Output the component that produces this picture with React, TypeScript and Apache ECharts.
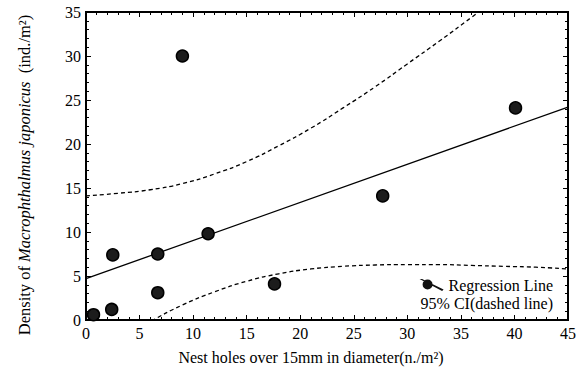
import React, { useEffect, useRef } from "react";
import * as echarts from "echarts";

// Observed points (nest holes, density)
const holes = [0.7, 2.4, 2.5, 6.7, 6.7, 9.0, 11.4, 17.6, 27.7, 40.1];
const density = [0.6, 1.2, 7.4, 3.1, 7.5, 30.0, 9.8, 4.1, 14.1, 24.1];

// Regression line end points
const regX = [0, 45];
const regY = [4.7, 24.2];

// 95% CI curves
const ciX = [0, 3, 6, 9, 12, 15, 18, 21, 24, 27, 30, 33, 36, 39, 42, 45];
const ciUpper = [14.1, 14.4, 14.8, 15.5, 16.6, 18.0, 19.8, 21.8, 24.1, 26.5, 29.1, 31.7, 34.4, 37.1, 39.8, 42.6];
const ciLower = [-4.7, -2.4, -0.2, 1.7, 3.2, 4.4, 5.25, 5.8, 6.1, 6.25, 6.3, 6.3, 6.2, 6.1, 6.0, 5.8];

const xTicks = { min: 0, max: 45, interval: 5 };
const yTicks = { min: 0, max: 35, interval: 5 };

const xTitle = "Nest holes over 15mm in diameter(n./m²)";
const yTitle = "{a|Density of }{i|Macrophthalmus japonicus}{a|  (ind./m²)}";

const FONT = "'Liberation Serif', 'Times New Roman', serif";

export default function App() {
  const ref = useRef<HTMLDivElement>(null);
  useEffect(() => {
    if (!ref.current) return;
    const chart = echarts.init(ref.current, undefined, { renderer: "svg" });
    const tickCommon = {
      axisLine: { show: true, onZero: false, lineStyle: { color: "#000", width: 2 } },
      axisTick: { show: true, inside: true, length: 5, lineStyle: { color: "#000", width: 1 } },
      minorTick: { show: true, splitNumber: 5, length: 3, lineStyle: { color: "#000", width: 1 } },
      splitLine: { show: false },
    };
    const labelStyle = { color: "#000", fontFamily: FONT, fontSize: 16 };
    const legendText = { color: "#000", fontFamily: FONT, fontSize: 16 };
    chart.setOption({
      animation: false,
      backgroundColor: "#fff",
      textStyle: { fontFamily: FONT, color: "#000" },
      grid: {
        left: 86,
        right: 13,
        top: 12,
        bottom: 53,
        containLabel: false,
        outerBoundsMode: "none",
        show: true,
        borderColor: "#000",
        borderWidth: 2,
        backgroundColor: "transparent",
      },
      graphic: [
        {
          type: "text",
          x: 311,
          y: 357,
          style: {
            text: xTitle,
            fontFamily: FONT,
            fontSize: 16,
            fill: "#000",
            align: "center",
            verticalAlign: "middle",
          },
        },
        {
          type: "text",
          x: 24,
          y: 175,
          rotation: Math.PI / 2,
          style: {
            text: yTitle,
            fontFamily: FONT,
            fontSize: 16.5,
            fill: "#000",
            align: "center",
            verticalAlign: "middle",
            rich: {
              a: { fontFamily: FONT, fontSize: 16.5, fill: "#000" },
              i: { fontFamily: FONT, fontSize: 16.5, fontStyle: "italic", fill: "#000" },
            },
          },
        },
      ],
      legend: [
        {
          orient: "vertical",
          right: 28,
          top: 277,
          padding: 0,
          itemWidth: 24,
          itemHeight: 12,
          itemGap: 5,
          textStyle: legendText,
          selectedMode: false,
          data: [
            {
              name: "Regression Line",
              icon: "path://M0,0 L2.5,0 L24,10.5 L22.5,12 Z M13,5.5 A5,5 0 1 1 3,5.5 A5,5 0 1 1 13,5.5 Z",
              itemStyle: { color: "#111" },
            },
          ],
        },
        {
          orient: "vertical",
          right: 28,
          top: 295,
          padding: 0,
          itemWidth: 1,
          itemHeight: 12,
          itemGap: 0,
          textStyle: legendText,
          selectedMode: false,
          data: [{ name: "95% CI(dashed line)", icon: "none" }],
        },
      ],
      xAxis: [
        {
          type: "value",
          ...xTicks,
          position: "bottom",
          ...tickCommon,
          axisLabel: { ...labelStyle, margin: 5 },
        },
        {
          type: "value",
          ...xTicks,
          position: "top",
          ...tickCommon,
          axisLabel: { show: false },
        },
      ],
      yAxis: [
        {
          type: "value",
          ...yTicks,
          position: "left",
          ...tickCommon,
          axisLabel: { ...labelStyle, margin: 5 },
        },
        {
          type: "value",
          ...yTicks,
          position: "right",
          ...tickCommon,
          axisLabel: { show: false },
        },
      ],
      series: [
        {
          name: "95% CI(dashed line)",
          type: "line",
          xAxisIndex: 1,
          yAxisIndex: 1,
          data: ciX.map((x, i) => [x, ciUpper[i]]),
          smooth: true,
          symbol: "none",
          clip: true,
          lineStyle: { color: "#000", width: 1.3, type: [4, 3] },
        },
        {
          name: "95% CI(dashed line)",
          type: "line",
          xAxisIndex: 1,
          yAxisIndex: 1,
          data: ciX.map((x, i) => [x, ciLower[i]]),
          smooth: true,
          symbol: "none",
          clip: true,
          lineStyle: { color: "#000", width: 1.3, type: [4, 3] },
        },
        {
          name: "Regression Line",
          type: "line",
          data: regX.map((x, i) => [x, regY[i]]),
          symbol: "none",
          clip: true,
          lineStyle: { color: "#000", width: 1.3 },
        },
        {
          name: "points",
          type: "scatter",
          data: holes.map((x, i) => [x, density[i]]),
          symbol: "circle",
          symbolSize: 12,
          itemStyle: { color: "#1c1c1c", borderColor: "#000", borderWidth: 1.5, opacity: 1 },
          z: 5,
        },
      ],
    });
    return () => chart.dispose();
  }, []);
  return (
    <div
      ref={ref}
      style={{ position: "fixed", left: 0, top: 0, width: 581, height: 373 }}
    />
  );
}
